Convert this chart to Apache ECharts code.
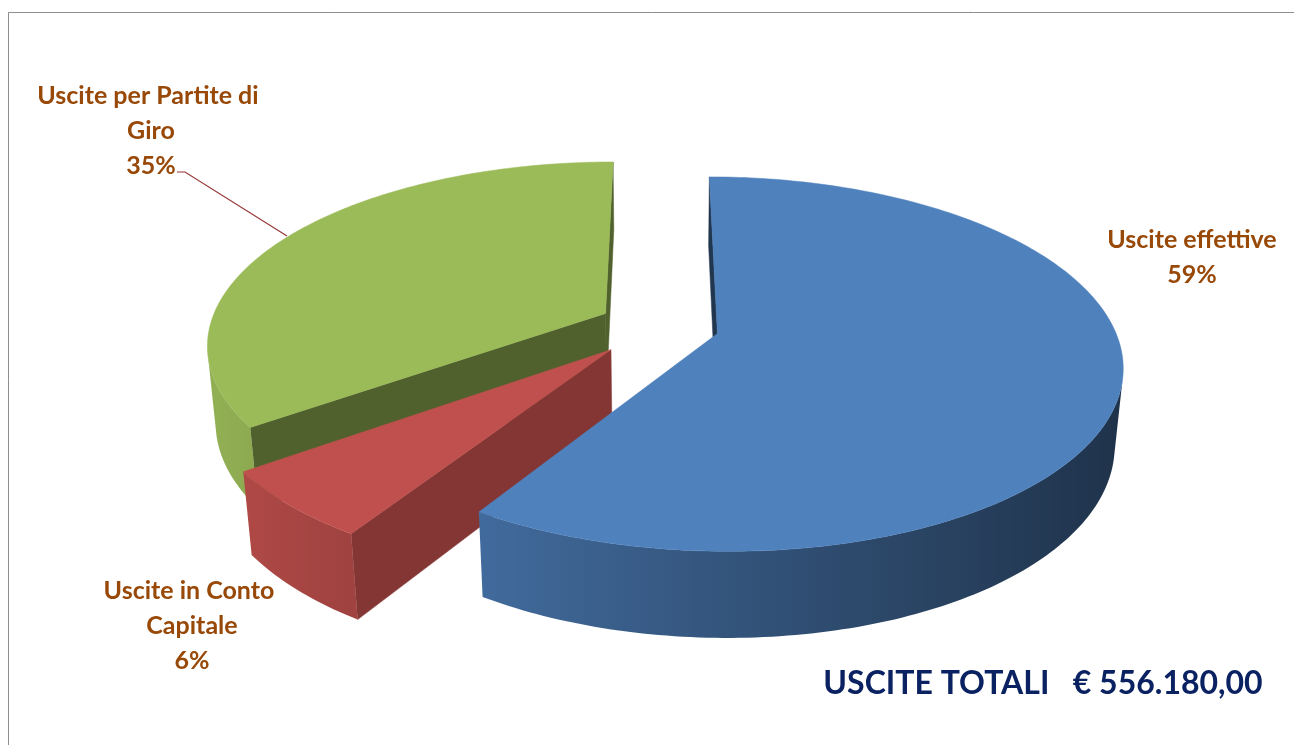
<!DOCTYPE html>
<html>
<head>
<meta charset="utf-8">
<title>Uscite totali</title>
<script src="https://cdn.jsdelivr.net/npm/echarts@6/dist/echarts.min.js"></script>
<style>
html, body { margin: 0; padding: 0; background: #fff; }
#chart { width: 1294px; height: 745px; }
</style>
</head>
<body>
<div id="chart"></div>
<script>
// dati del grafico
var categories = ['Uscite effettive', 'Uscite in Conto Capitale', 'Uscite per Partite di Giro'];
var shares = [59, 6, 35];          // percentuale sul totale
var totalUscite = 556180.00;

// aspetto delle fette
var topColors = ['#4f81bd', '#c0504d', '#9bbb59'];
var cutShade = [0.42, 0.68, 0.52];     // facce di taglio
var explode = [0.15, 0.177, 0.156];
var drawRank = [2, 1, 0];              // ordine di disegno (dietro -> davanti)

// posizione etichette (centro del blocco di testo)
var labelPos = [[1192, 257], [192, 626], [151, 131]];

// vista prospettica
var view = { cx: 660, cy: 326, k: 396, tilt: 27 * Math.PI / 180, dist: 5.5, h: 0.22 };
var light = [-0.97, 0, 0.243];
var camera = [0, view.dist * Math.sin(view.tilt), view.dist * Math.cos(view.tilt)];

function project(x, y, z) {
    var ct = Math.cos(view.tilt), st = Math.sin(view.tilt);
    var yc = y * ct - z * st;
    var zc = y * st + z * ct;
    var s = view.dist / (view.dist - zc);
    return [view.cx + view.k * x * s, view.cy - view.k * yc * s];
}

function shade(hex, f) {
    var r = parseInt(hex.substr(1, 2), 16), g = parseInt(hex.substr(3, 2), 16), b = parseInt(hex.substr(5, 2), 16);
    var c = function (v) { return Math.max(0, Math.min(255, Math.round(v * f))); };
    return 'rgb(' + c(r) + ',' + c(g) + ',' + c(b) + ')';
}

function facing(n, p) {
    return n[0] * (camera[0] - p[0]) + n[1] * (camera[1] - p[1]) + n[2] * (camera[2] - p[2]) > 0;
}

function wallLight(n) {
    var d = n[0] * light[0] + n[1] * light[1] + n[2] * light[2];
    var h = (d + 1) / 2;
    return 0.38 + 0.56 * Math.pow(h, 1.5);
}

function formatEuro(v) {
    var parts = v.toFixed(2).split('.');
    return parts[0].replace(/\B(?=(\d{3})+(?!\d))/g, '.') + ',' + parts[1];
}

var sumShares = shares.reduce(function (a, b) { return a + b; }, 0);

function renderSlice(params, api) {
    var i = params.dataIndex;
    var value = api.value(0);
    var before = 0;
    for (var j = 0; j < i; j++) before += shares[j];
    var a0 = before / sumShares * Math.PI * 2;
    var a1 = (before + value) / sumShares * Math.PI * 2;
    var am = (a0 + a1) / 2;
    var ox = explode[i] * Math.sin(am), oz = -explode[i] * Math.cos(am);
    var H = view.h;
    var color = topColors[i];
    var base = drawRank[i] * 10;
    var children = [];

    var steps = Math.max(2, Math.ceil((a1 - a0) / (Math.PI / 180)));
    var angles = [];
    for (var s = 0; s <= steps; s++) angles.push(a0 + (a1 - a0) * s / steps);
    function rim(a, y) { return [ox + Math.sin(a), y, oz - Math.cos(a)]; }

    // facce di taglio
    [[a0, -1], [a1, 1]].forEach(function (e) {
        var a = e[0];
        var n = [e[1] * Math.cos(a), 0, e[1] * Math.sin(a)];
        if (!facing(n, [ox, -H / 2, oz])) return;
        var r0 = rim(a, 0), r1 = rim(a, -H);
        children.push({
            type: 'polygon',
            z2: base + 1,
            shape: { points: [project(ox, 0, oz), project(r0[0], r0[1], r0[2]), project(r1[0], r1[1], r1[2]), project(ox, -H, oz)] },
            style: { fill: shade(color, cutShade[i]), stroke: shade(color, cutShade[i]), lineWidth: 0.5 }
        });
    });

    // parete esterna
    var vis = angles.filter(function (a) {
        return facing([Math.sin(a), 0, -Math.cos(a)], rim(a, -H / 2));
    });
    if (vis.length > 1) {
        var topPts = vis.map(function (a) { var p = rim(a, 0); return project(p[0], p[1], p[2]); });
        var botPts = vis.map(function (a) { var p = rim(a, -H); return project(p[0], p[1], p[2]); });
        var xs = topPts.map(function (p) { return p[0]; });
        var xmin = Math.min.apply(null, xs), xmax = Math.max.apply(null, xs);
        var stops = vis.map(function (a, k) {
            return {
                offset: (xs[k] - xmin) / Math.max(1, xmax - xmin),
                color: shade(color, wallLight([Math.sin(a), 0, -Math.cos(a)]))
            };
        }).sort(function (p, q) { return p.offset - q.offset; });
        var grad = new echarts.graphic.LinearGradient(0, 0, 1, 0, stops);
        grad.global = true;
        grad.x = xmin; grad.x2 = xmax; grad.y = 0; grad.y2 = 0;
        children.push({
            type: 'polygon',
            z2: base + 2,
            shape: { points: topPts.concat(botPts.reverse()) },
            style: { fill: grad }
        });
    }

    // faccia superiore
    var pts = [project(ox, 0, oz)];
    angles.forEach(function (a) { var p = rim(a, 0); pts.push(project(p[0], p[1], p[2])); });
    children.push({
        type: 'polygon',
        z2: base + 5,
        shape: { points: pts },
        style: { fill: color, stroke: color, lineWidth: 0.5 }
    });

    return { type: 'group', children: children };
}

var labelFont = 'bold 25px Lato, "Open Sans", sans-serif';
var labelGraphics = categories.map(function (name, i) {
    return {
        type: 'text',
        x: labelPos[i][0],
        y: labelPos[i][1],
        z: 10,
        style: {
            text: name + '\n' + Math.round(shares[i] / sumShares * 100) + '%',
            font: labelFont,
            fill: '#984807',
            align: 'center',
            verticalAlign: 'middle',
            lineHeight: 35,
            width: 250,
            overflow: 'break'
        }
    };
});

var chart = echarts.init(document.getElementById('chart'));
chart.setOption({
    animation: false,
    graphic: [
        {
            type: 'rect',
            shape: { x: 8.5, y: 12.5, width: 1400, height: 900 },
            style: { fill: 'none', stroke: '#8e8e8e', lineWidth: 1 },
            z: 0
        },
        {
            type: 'polyline',
            shape: { points: [[177, 172], [185, 172], [287, 236]] },
            style: { stroke: '#953735', lineWidth: 1.2, fill: 'none' },
            z: 10
        },
        {
            type: 'text',
            x: 1043,
            y: 684,
            z: 10,
            style: {
                text: 'USCITE TOTALI   € ' + formatEuro(totalUscite),
                font: 'bold 32px Lato, "Open Sans", sans-serif',
                fill: '#0b2262',
                align: 'center',
                verticalAlign: 'middle'
            }
        }
    ].concat(labelGraphics),
    series: [{
        type: 'custom',
        coordinateSystem: 'none',
        silent: true,
        data: shares.map(function (v, i) { return { name: categories[i], value: v }; }),
        renderItem: renderSlice
    }]
});
</script>
</body>
</html>
